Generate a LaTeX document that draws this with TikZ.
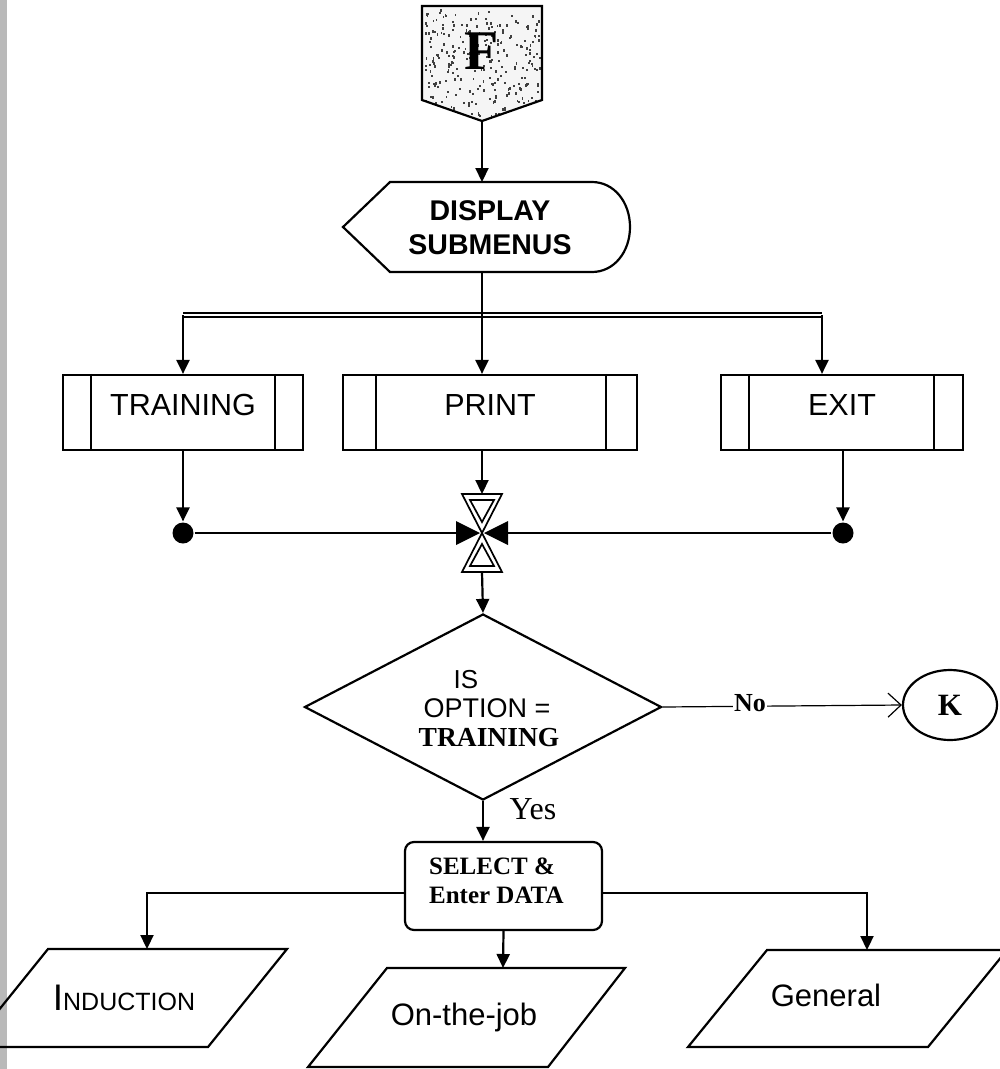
\documentclass[tikz,border=0pt]{standalone}
\usepackage{fontspec}
\setmainfont{Liberation Serif}
\setsansfont{Liberation Sans}
\usetikzlibrary{arrows.meta,shapes.geometric}

\begin{document}
\begin{tikzpicture}[x=1pt,y=-1pt,line width=2.2pt,
  >={Triangle[length=14pt,width=13pt]},
  subbox/.style={draw,rectangle,minimum height=75pt,inner sep=0pt},
  subtext/.style={inner sep=0pt,font=\sffamily\fontsize{30.5}{32}\selectfont},
  iobox/.style={inner sep=0pt,font=\sffamily\fontsize{31}{33}\selectfont},
  serifbold/.style={inner sep=0pt,font=\rmfamily\bfseries\fontsize{25}{29}\selectfont},
  dot/.style={circle,fill=black,inner sep=0pt,minimum size=21pt},
  thinline/.style={line width=1.2pt}]
\useasboundingbox (0,0) rectangle (1000,1069);
\fill[white] (0,0) rectangle (1000,1069);
\fill[gray!55] (0,0) rectangle (7,1069);

% ---- off-page connector F (stippled pentagon)
\coordinate (ftip) at (482,121);
\begin{scope}
  \clip (422,6) -- (542,6) -- (542,100) -- (ftip) -- (422,100) -- cycle;
  \fill[black!4] (422,6) rectangle (542,121);
  \pgfmathsetseed{42}
  \foreach \i in {1,...,270}{
    \pgfmathsetmacro\xx{424+116*rnd}
    \pgfmathsetmacro\yy{9+110*rnd}
    \fill[black!75] (\xx,\yy) rectangle ++(1.8,2.4);
  }
\end{scope}
\draw (422,6) -- (542,6) -- (542,100) -- (ftip) -- (422,100) -- cycle;
\node[inner sep=0pt,font=\rmfamily\bfseries\fontsize{56}{56}\selectfont] (F) at (482,51) {F};

% ---- display symbol
\coordinate (dtop) at (482,182);
\coordinate (dbot) at (482,272);
\draw (343,227) -- (390,182) -- (592,182)
  .. controls (614,182) and (630,202) .. (630,227)
  .. controls (630,252) and (614,272) .. (592,272)
  -- (390,272) -- cycle;
\node[inner sep=0pt,align=center,font=\sffamily\bfseries\fontsize{28.5}{34}\selectfont]
  (disp) at (490,228) {DISPLAY\\SUBMENUS};
\draw[->] (ftip) -- (dtop);

% ---- predefined-process boxes
\node[subbox,minimum width=240pt] (train) at (183,412.5) {};
\node[subbox,minimum width=294pt] (print) at (490,412.5) {};
\node[subbox,minimum width=242pt] (exit)  at (842,412.5) {};
\node[subtext] (traintxt) at (183,405) {TRAINING};
\node[subtext] (printtxt) at (490,405) {PRINT};
\node[subtext] (exittxt)  at (842,405) {EXIT};
\foreach \b/\l/\r in {train/29/29, print/34/32, exit/29/30}{
  \draw ([xshift=\l pt]\b.north west) -- ([xshift=\l pt]\b.south west);
  \draw ([xshift=-\r pt]\b.north east) -- ([xshift=-\r pt]\b.south east);
}

% ---- branching bus to the three boxes
\coordinate (busL) at (183,315);
\coordinate (busR) at (822,315);
\draw[line width=1.4pt,double,double distance=2.6pt] (busL) -- (busR);
\draw[->] (busL) -- (busL |- train.north);
\draw[->] (busR) -- (busR |- exit.north);
\draw[->] (dbot) -- (dbot |- print.north);

% ---- merge symbol
\coordinate (m) at (482,533);
\begin{scope}[shift={(m)}]
  \draw[line width=1.7pt] (-20,-39) -- (20,-39) -- (0,0) -- cycle;
  \draw[line width=1.7pt] (-12,-33) -- (12,-33) -- (0,-11) -- cycle;
  \draw[line width=1.7pt] (-20,39) -- (20,39) -- (0,0) -- cycle;
  \draw[line width=1.7pt] (-12,33) -- (12,33) -- (0,11) -- cycle;
  \fill (-26,-12) -- (-26,12) -- (-2,0) -- cycle;
  \fill (26,-12) -- (26,12) -- (2,0) -- cycle;
\end{scope}
\coordinate (mtop) at (482,494);
\coordinate (mbot) at (482,572);
\coordinate (mleft) at (456,533);
\coordinate (mright) at (508,533);

\node[dot] (tdot) at (183,533) {};
\node[dot] (edot) at (843,533) {};
\draw[->] (train.south) -- (tdot.north);
\draw[->] (edot |- exit.south) -- (edot.north);
\draw[->] (print.south -| mtop) -- (mtop);
\draw (tdot) -- (mleft);
\draw (edot) -- (mright);

% ---- decision
\node[draw,diamond,minimum width=357pt,minimum height=186pt,inner sep=0pt] (dec) at (483,707) {};
\node[inner sep=0pt,font=\sffamily\fontsize{26}{26}\selectfont] (is) at (466,680) {IS};
\node[inner sep=0pt,font=\sffamily\fontsize{27}{27}\selectfont] (opt) at (487,708) {OPTION =};
\node[inner sep=0pt,font=\rmfamily\bfseries\fontsize{27.5}{27.5}\selectfont] (dtr) at (489,738) {TRAINING};
\draw[->] (mbot) -- (dec.north);

% ---- off-page connector K
\node[draw,ellipse,minimum width=94pt,minimum height=70pt,inner sep=0pt,
  font=\rmfamily\bfseries\fontsize{31}{31}\selectfont] (k) at (950,705) {K};
\draw[thinline,-{Straight Barb[length=13pt,width=24pt,line width=1.2pt]}] (dec.east) -- (k.west);
\node[fill=white,inner sep=1pt,font=\rmfamily\bfseries\fontsize{26}{26}\selectfont] (no) at (750,703) {No};

% ---- select & enter data
\node[draw,rounded corners=9pt,minimum width=197pt,minimum height=88pt,inner sep=0pt] (sel) at (503.5,886) {};
\node[anchor=west,align=left,serifbold] (seltxt) at (428,881) {SELECT \&\\Enter DATA};
\draw[->] (dec.south) -- (dec.south |- sel.north);
\node[inner sep=0pt,font=\rmfamily\fontsize{32}{32}\selectfont] (yes) at (533,809) {Yes};

% ---- input/output parallelograms
\coordinate (indtop) at (147,949);
\coordinate (ojtop) at (503,968);
\coordinate (gentop) at (867,950);
\draw (48,949) -- (287,949) -- (208,1047) -- (-31,1047) -- cycle;
\draw (387,968) -- (625,968) -- (548,1067) -- (308,1067) -- cycle;
\draw (767,950) -- (1007,950) -- (928,1047) -- (688,1047) -- cycle;
\node[inner sep=0pt,font=\sffamily] (ind) at (124,998)
  {{\fontsize{37}{37}\selectfont I}{\fontsize{25}{25}\selectfont NDUCTION}};
\node[iobox] (oj) at (464,1017) {On-the-job};
\node[iobox] (gen) at (826,995) {General};

\draw[->] ([yshift=-7pt]sel.west) -| (indtop);
\draw[->] ([yshift=-7pt]sel.east) -| (gentop);
\draw[->] (sel.south) -- (ojtop);
\end{tikzpicture}
\end{document}
